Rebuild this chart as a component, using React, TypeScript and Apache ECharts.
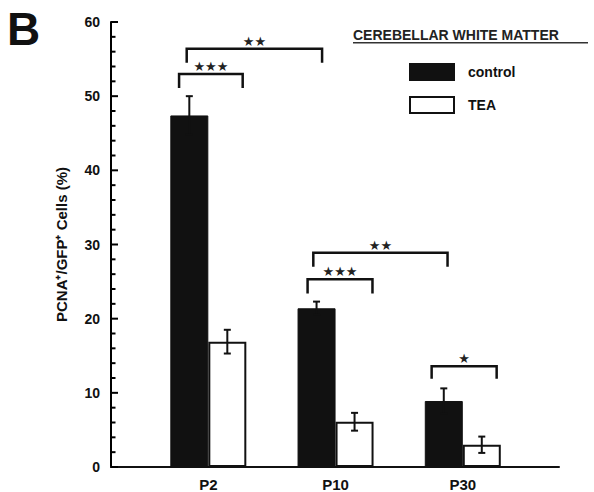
import React, { useEffect, useRef } from "react";
import * as echarts from "echarts";

const categories = ["P2", "P10", "P30"];
const controlValues = [47.4, 21.4, 8.9];
const controlErrors = [2.6, 0.9, 1.7];
const teaValues = [16.9, 6.1, 3.0];
const teaErrors = [1.6, 1.2, 1.1];
const seriesNames = ["control", "TEA"];
const yTicks = { min: 0, max: 60, interval: 10 };
const majorTicks = [0, 10, 20, 30, 40, 50, 60];
const minorTicks = [2, 4, 6, 8, 12, 14, 16, 18, 22, 24, 26, 28, 32, 34, 36, 38, 42, 44, 46, 48, 52, 54, 56, 58];
// brackets: [xStart, xEnd, yTop, yLeg] in category units / value units
const brackets = [
  [-0.23, 0.27, 53.0, 51.1],
  [-0.17, 0.894, 56.4, 54.5],
  [0.78, 1.29, 25.3, 23.4],
  [0.825, 1.88, 28.9, 27.0],
  [1.755, 2.266, 13.6, 11.9],
];
const bracketLabels = ["★★★", "★★", "★★★", "★★", "★"];
const panelLetter = "B";
const legendTitle = "CEREBELLAR WHITE MATTER";
const yAxisName = "PCNA⁺/GFP⁺ Cells (%)";

const FONT = "'Liberation Sans', Arial, Helvetica, sans-serif";
const BAR_W = 38;
const X_MIN = -0.765;
const X_MAX = 2.756;

export default function App() {
  const ref = useRef<HTMLDivElement>(null);
  useEffect(() => {
    if (!ref.current) return;
    const chart = echarts.init(ref.current, null, { renderer: "svg" });
    const errData = (vals: number[], errs: number[]) =>
      vals.map((v, i) => [i, v - errs[i], v + errs[i]]);
    const makeErr = (offset: number) => (params: any, api: any) => {
      const lo = api.coord([api.value(0), api.value(1)]);
      const hi = api.coord([api.value(0), api.value(2)]);
      const x = lo[0] + offset;
      const cap = 3.5;
      const style = { stroke: "#111", lineWidth: 2 };
      return {
        type: "group",
        children: [
          { type: "line", shape: { x1: x, y1: lo[1], x2: x, y2: hi[1] }, style },
          { type: "line", shape: { x1: x - cap, y1: hi[1], x2: x + cap, y2: hi[1] }, style },
          { type: "line", shape: { x1: x - cap, y1: lo[1], x2: x + cap, y2: lo[1] }, style },
        ],
      };
    };
    const makeTick = (len: number) => (params: any, api: any) => {
      const p = api.coord([X_MIN, api.value(1)]);
      return {
        type: "line",
        shape: { x1: p[0], y1: p[1], x2: p[0] + len, y2: p[1] },
        style: { stroke: "#000", lineWidth: 2 },
      };
    };
    const option: any = {
      animation: false,
      backgroundColor: "#fff",
      textStyle: { fontFamily: FONT },
      graphic: [
        {
          type: "text",
          left: 7,
          top: 6,
          style: { text: panelLetter, font: `bold 46px ${FONT}`, fill: "#111" },
        },
        {
          type: "text",
          left: 353,
          top: 28,
          style: { text: legendTitle, font: `bold 14px ${FONT}`, fill: "#222" },
        },
        {
          type: "rect",
          left: 353,
          top: 42,
          shape: { width: 235, height: 1.5 },
          style: { fill: "#333" },
        },
      ],
      legend: {
        data: seriesNames,
        orient: "vertical",
        left: 404,
        top: 58,
        itemWidth: 44,
        itemHeight: 16,
        itemGap: 15,
        icon: "rect",
        textStyle: { fontFamily: FONT, fontWeight: "bold", fontSize: 14, color: "#111", padding: [0, 0, 0, 9] },
      },
      grid: [
        { left: 111, right: 35, top: 22, bottom: 25 },
        { left: 144.7, right: 67.6, top: 22, bottom: 25 },
      ],
      xAxis: [
        {
          type: "value",
          gridIndex: 0,
          min: X_MIN,
          max: X_MAX,
          axisLine: { show: true, onZero: false, lineStyle: { color: "#111", width: 2 } },
          axisTick: { show: false },
          axisLabel: { show: false },
          splitLine: { show: false },
        },
        {
          type: "category",
          gridIndex: 1,
          data: categories,
          axisLine: { show: false },
          axisTick: { show: false },
          axisLabel: { fontFamily: FONT, fontWeight: "bold", fontSize: 15, color: "#111", margin: 10 },
        },
      ],
      yAxis: [
        {
          type: "value",
          gridIndex: 0,
          min: yTicks.min,
          max: yTicks.max,
          interval: yTicks.interval,
          name: yAxisName,
          nameLocation: "middle",
          nameRotate: 90,
          nameGap: 42,
          nameTextStyle: { fontFamily: FONT, fontWeight: "bold", fontSize: 15, color: "#111" },
          axisLine: { show: true, onZero: false, lineStyle: { color: "#000", width: 2 } },
          axisTick: { show: false },
          minorTick: { show: false },
          axisLabel: { fontFamily: FONT, fontWeight: "bold", fontSize: 14, color: "#111", margin: 11 },
          splitLine: { show: false },
        },
        {
          type: "value",
          gridIndex: 1,
          min: yTicks.min,
          max: yTicks.max,
          show: false,
        },
      ],
      series: [
        {
          name: seriesNames[0],
          type: "bar",
          xAxisIndex: 1,
          yAxisIndex: 1,
          data: controlValues,
          barWidth: BAR_W,
          barGap: "0%",
          itemStyle: { color: "#111", borderColor: "#111", borderWidth: 1 },
        },
        {
          name: seriesNames[1],
          type: "bar",
          xAxisIndex: 1,
          yAxisIndex: 1,
          data: teaValues,
          barWidth: BAR_W,
          barGap: "0%",
          itemStyle: { color: "#fff", borderColor: "#111", borderWidth: 2 },
        },
        {
          type: "custom",
          xAxisIndex: 1,
          yAxisIndex: 1,
          data: errData(controlValues, controlErrors),
          renderItem: makeErr(-BAR_W / 2),
          z: 5,
        },
        {
          type: "custom",
          xAxisIndex: 1,
          yAxisIndex: 1,
          data: errData(teaValues, teaErrors),
          renderItem: makeErr(BAR_W / 2),
          z: 5,
        },
        {
          type: "custom",
          xAxisIndex: 0,
          yAxisIndex: 0,
          data: majorTicks.map((v) => [X_MIN, v]),
          renderItem: makeTick(7),
          clip: false,
          z: 6,
        },
        {
          type: "custom",
          xAxisIndex: 0,
          yAxisIndex: 0,
          data: minorTicks.map((v) => [X_MIN, v]),
          renderItem: makeTick(4.5),
          clip: false,
          z: 6,
        },
        {
          type: "custom",
          xAxisIndex: 0,
          yAxisIndex: 0,
          data: brackets,
          encode: { x: [0, 1], y: [2, 3] },
          renderItem: (params: any, api: any) => {
            const a = api.coord([api.value(0), api.value(3)]);
            const b = api.coord([api.value(0), api.value(2)]);
            const c = api.coord([api.value(1), api.value(2)]);
            const d = api.coord([api.value(1), api.value(3)]);
            return {
              type: "group",
              children: [
                {
                  type: "polyline",
                  shape: { points: [a, b, c, d] },
                  style: { stroke: "#111", lineWidth: 2.5, fill: "none" },
                },
                {
                  type: "text",
                  x: (b[0] + c[0]) / 2,
                  y: b[1] - 1,
                  style: {
                    text: bracketLabels[params.dataIndex],
                    font: `13px 'DejaVu Sans', sans-serif`,
                    fill: "#222",
                    align: "center",
                    verticalAlign: "bottom",
                  },
                },
              ],
            };
          },
          z: 5,
        },
      ],
    };
    chart.setOption(option);
    return () => chart.dispose();
  }, []);
  return <div ref={ref} style={{ width: 594, height: 492, position: "absolute", left: 0, top: 0 }} />;
}
